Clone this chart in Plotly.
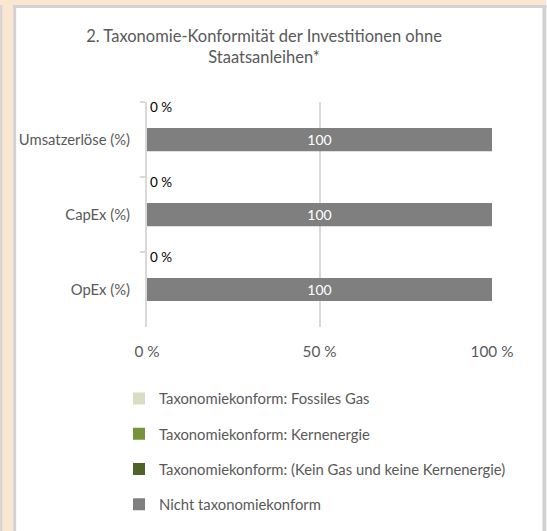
import plotly.graph_objects as go

# --- data ---------------------------------------------------------------
categories = ["Umsatzerlöse (%)", "CapEx (%)", "OpEx (%)"]
fossil_gas = [0, 0, 0]
nuclear = [0, 0, 0]
no_gas_no_nuclear = [0, 0, 0]
not_aligned = [100, 100, 100]
x_ticks = [0, 50, 100]
x_tick_labels = ["0 %", "50 %", "100 %"]

title_text = "2. Taxonomie-Konformität der Investitionen ohne<br>Staatsanleihen*"

# --- figure geometry (pixels) -------------------------------------------
W, H = 547, 531
L, R, T, B = 147, 54.5, 102, 204
PW, PH = W - L - R, H - T - B


def px(x):
    return (x - L) / PW


def py(y):
    return (H - B - y) / PH


FONT = "Lato"
GREY_TXT = "#595959"
GRID = "#d9d9d9"

fig = go.Figure()

series = [
    ("Taxonomiekonform: Fossiles Gas", fossil_gas, "#d7dec4"),
    ("Taxonomiekonform: Kernenergie", nuclear, "#77933c"),
    ("Taxonomiekonform: (Kein Gas und keine Kernenergie)", no_gas_no_nuclear, "#4f6228"),
]
for i, (name, vals, col) in enumerate(series):
    show_txt = i == len(series) - 1
    fig.add_trace(go.Bar(
        y=categories, x=vals, orientation="h", name=name,
        marker=dict(color=col, line=dict(width=0)),
        width=0.12, offset=-0.50,
        text=[f"{v} %" for v in vals] if show_txt else None,
        textposition="outside", cliponaxis=False,
        textfont=dict(family=FONT, size=13.5, color="#000000"),
        legendgroup=name,
    ))

fig.add_trace(go.Bar(
    y=categories, x=not_aligned, orientation="h",
    name="Nicht taxonomiekonform",
    marker=dict(color="#7f7f7f", line=dict(width=0)),
    width=0.31, offset=-0.155,
    text=[str(v) for v in not_aligned],
    textposition="inside", insidetextanchor="middle",
    textfont=dict(family=FONT, size=14, color="#ffffff"),
    legendgroup="Nicht taxonomiekonform",
))

# frame: beige strips and grey borders around the white panel
BEIGE = "#fbe6d4"
BORDER = "#d2d2d2"
frame = [
    (0, 0, W, 5, BEIGE),
    (0, 0, 13, H, BEIGE),
    (0, 5, 2, H, BORDER),
    (13, 5, 16, H, BORDER),
    (13, 5, W, 8, BORDER),
    (543, 6, W, H, BORDER),
]
shapes = []
for x0, y0, x1, y1, c in frame:
    shapes.append(dict(type="rect", xref="paper", yref="paper",
                       x0=px(x0), x1=px(x1), y0=py(y1), y1=py(y0),
                       fillcolor=c, line=dict(width=0), layer="below"))

fig.update_layout(
    width=W, height=H,
    margin=dict(l=L, r=R, t=T, b=B, pad=0, autoexpand=False),
    paper_bgcolor="#ffffff", plot_bgcolor="rgba(0,0,0,0)",
    barmode="overlay", uniformtext=dict(mode=False),
    shapes=shapes,
    showlegend=True,
    title=dict(text=title_text, x=264 / W, xanchor="center", xref="container",
               y=1 - 42 / H, yanchor="middle", yref="container",
               font=dict(family=FONT, size=16.5, color=GREY_TXT)),
    legend=dict(
        x=119 / W, y=1 - 382.5 / H, xref="container", yref="container",
        xanchor="left", yanchor="top",
        traceorder="grouped", tracegroupgap=13,
        font=dict(family=FONT, size=14.8, color=GREY_TXT),
        bgcolor="rgba(0,0,0,0)",
    ),
    xaxis=dict(
        range=[0, 100], tickvals=x_ticks, ticktext=x_tick_labels,
        showgrid=True, gridcolor=GRID, gridwidth=2,
        zeroline=False, showline=False, ticks="outside", ticklen=11,
        tickcolor="rgba(0,0,0,0)",
        tickfont=dict(family=FONT, size=15.3, color=GREY_TXT),
        fixedrange=True,
    ),
    yaxis=dict(
        type="category", autorange="reversed",
        showline=True, linecolor=GRID, linewidth=2,
        ticks="outside", tickson="boundaries", ticklen=5, tickcolor=GRID,
        tickwidth=2, ticklabelstandoff=12,
        showgrid=False, zeroline=False,
        tickfont=dict(family=FONT, size=14.8, color=GREY_TXT),
        fixedrange=True,
    ),
)
fig.update_traces(constraintext="none", hoverinfo="skip")

fig.write_html("out.html")
